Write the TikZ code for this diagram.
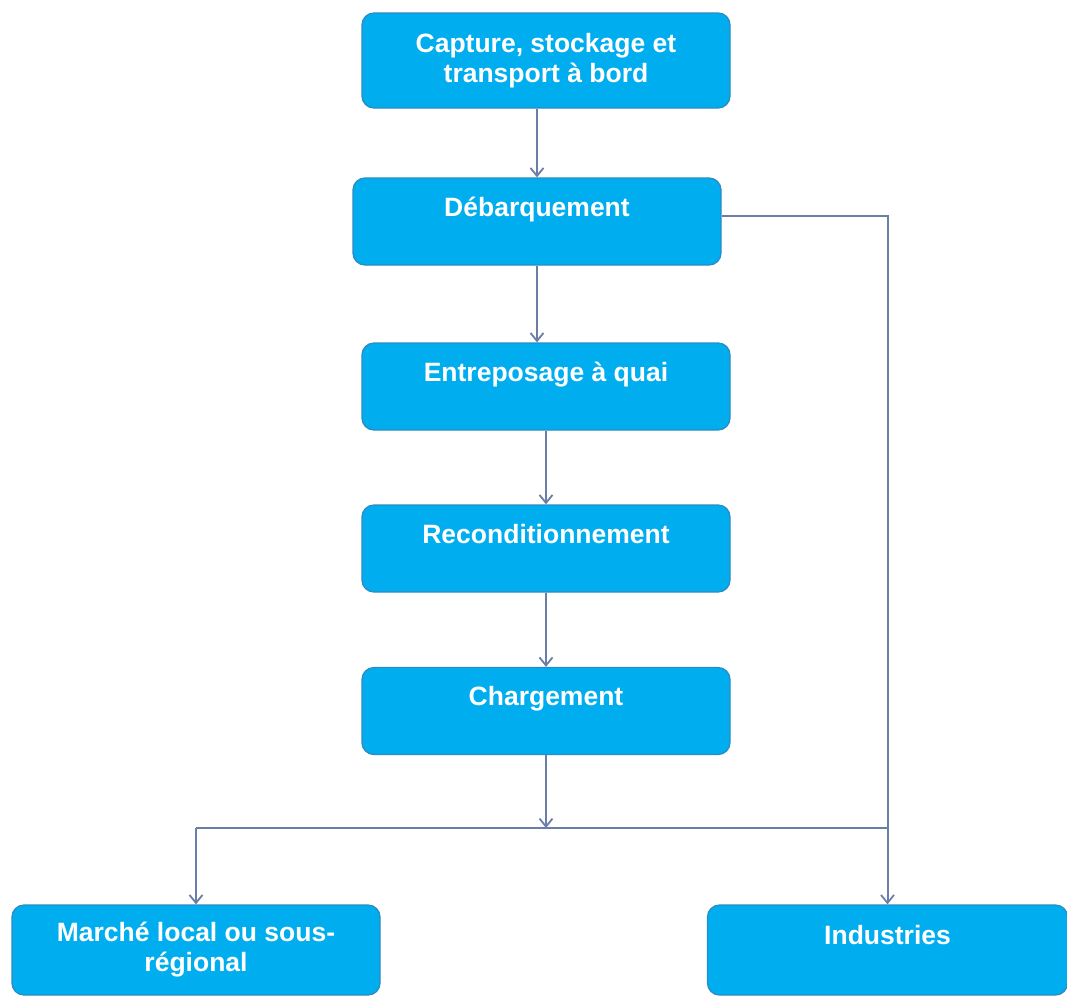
\documentclass[tikz,border=0pt]{standalone}
\usepackage{fontspec}
\setmainfont{Liberation Sans}
\usetikzlibrary{arrows.meta,calc}
\definecolor{boxfill}{HTML}{00AEEF}
\definecolor{boxline}{HTML}{2A8CC4}
\definecolor{flowline}{HTML}{6B7FA6}
\tikzset{
    stepbox/.style={draw=boxline, line width=1.3pt, fill=boxfill, rounded corners=12pt,
        minimum width=368pt, minimum height=87pt, align=center, text=white,
        font=\fontsize{26.5}{30}\selectfont\bfseries, inner sep=0pt},
    flow/.style={draw=flowline, line width=2pt},
    flowarrow/.style={flow, -{Straight Barb[length=8pt,width=13pt,line width=1.8pt]}}
}

\begin{document}
\begin{tikzpicture}[x=1pt,y=-1pt]
    \useasboundingbox (0,0) rectangle (1067,997);
    % chain of steps
    \node[stepbox, minimum height=95pt] (cap) at (546,60.5) {Capture, stockage et\\transport à bord};
    \node[stepbox] (deb) at (537,221.5) {Débarquement\\\mbox{}};
    \node[stepbox] (ent) at (546,386.5) {Entreposage à quai\\\mbox{}};
    \node[stepbox] (rec) at (546,548.5) {Reconditionnement\\\mbox{}};
    \node[stepbox] (cha) at (546,711) {Chargement\\\mbox{}};
    % outlets
    \node[stepbox, minimum height=90pt] (mar) at (196,950) {Marché local ou sous-\\régional};
    \node[stepbox, minimum width=360pt, minimum height=90pt] (ind) at (887.5,950) {Industries\\\mbox{}};
    \coordinate (split) at (546,828);
    \coordinate (debout) at ($(deb.east)+(0,-5.5)$);
    % connectors
    \draw[flowarrow] (deb.north |- cap.south) -- (deb.north);
    \draw[flowarrow] (deb.south) -- (deb.south |- ent.north);
    \draw[flowarrow] (ent.south) -- (rec.north);
    \draw[flowarrow] (rec.south) -- (cha.north);
    \draw[flowarrow] (cha.south) -- (split);
    \draw[flow] (mar.north |- split) -- (ind.north |- split);
    \draw[flowarrow] (mar.north |- split) -- (mar.north);
    \draw[flowarrow] (debout) -- (ind.north |- debout) -- (ind.north);
\end{tikzpicture}
\end{document}
